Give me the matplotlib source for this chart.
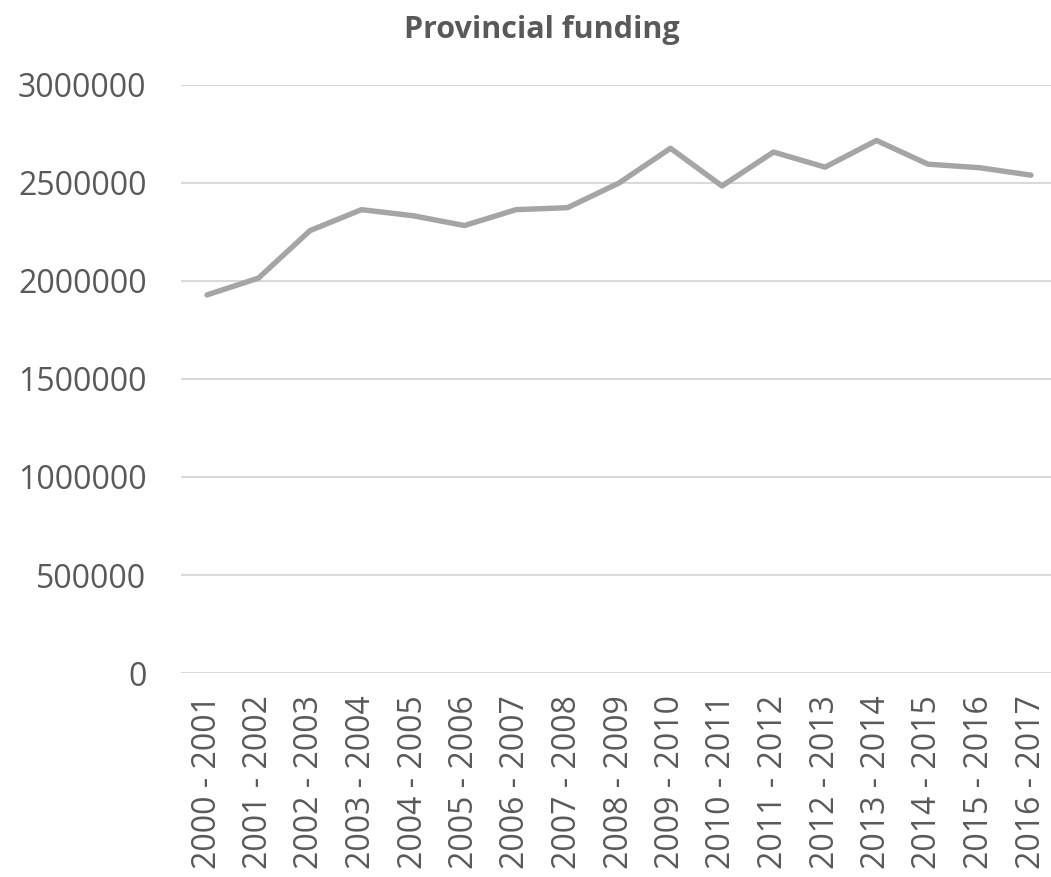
import numpy as np
import matplotlib
matplotlib.use("Agg")
import matplotlib.pyplot as plt

# Provincial funding per fiscal year
years = ["2000 - 2001", "2001 - 2002", "2002 - 2003", "2003 - 2004", "2004 - 2005",
         "2005 - 2006", "2006 - 2007", "2007 - 2008", "2008 - 2009", "2009 - 2010",
         "2010 - 2011", "2011 - 2012", "2012 - 2013", "2013 - 2014", "2014 - 2015",
         "2015 - 2016", "2016 - 2017"]
funding = [1929000, 2015000, 2257000, 2364000, 2333000,
           2283000, 2364000, 2374000, 2500000, 2677000,
           2485000, 2658000, 2581000, 2717000, 2596000,
           2578000, 2540000]
y_ticks = [0, 500000, 1000000, 1500000, 2000000, 2500000, 3000000]

plt.rcParams['font.family'] = ['Open Sans', 'DejaVu Sans']
text_color = '#595959'

fig = plt.figure(figsize=(10.51, 8.77), dpi=100)
W, H = 1051, 877
left, right, top, bottom = 181.25, 1056.75, 85, 673
ax = fig.add_axes([left / W, 1 - bottom / H, (right - left) / W, (bottom - top) / H])

x = np.arange(len(years))
ax.plot(x, funding, color='#A5A5A5', linewidth=3.9,
        solid_joinstyle='round', solid_capstyle='round', zorder=3)

ax.set_xlim(-0.5, len(years) - 0.5)
ax.set_ylim(0, 3000000)
ax.set_yticks(y_ticks)
ax.set_yticklabels([str(v) for v in y_ticks])
ax.set_xticks(x)
ax.set_xticklabels(years, rotation=90)

ax.grid(axis='y', color='#D9D9D9', linewidth=1.5, zorder=0)
ax.set_axisbelow(True)
for s in ax.spines.values():
    s.set_visible(False)
ax.tick_params(axis='both', length=0, labelsize=23, colors=text_color)
ax.tick_params(axis='y', pad=25)
ax.tick_params(axis='x', pad=16)

fig.text(542 / W, 1 - 30 / H, "Provincial funding", ha='center', va='center',
         fontsize=22, fontweight='bold', color=text_color)

fig.savefig("out.png", dpi=100)
